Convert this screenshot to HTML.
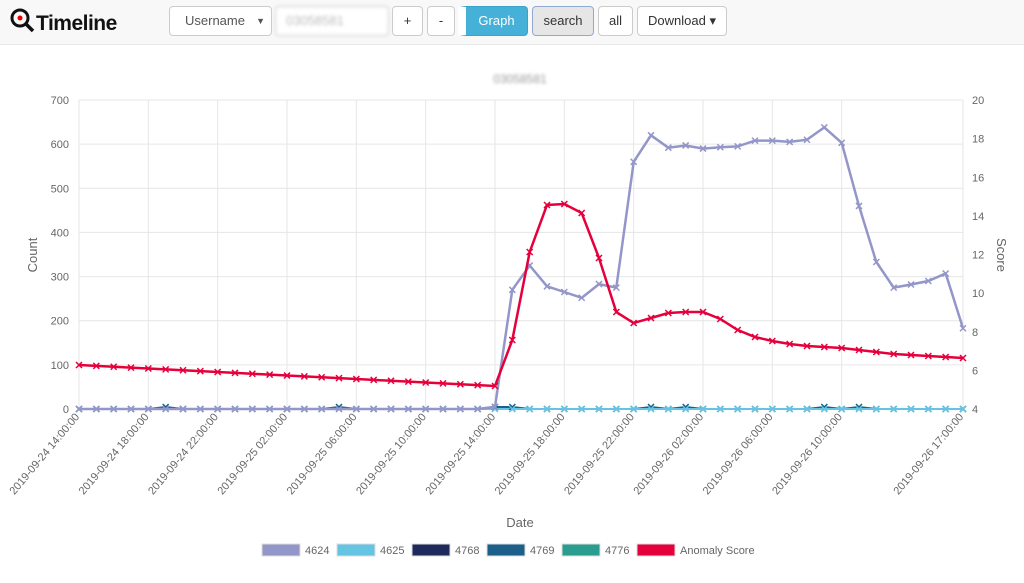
<!DOCTYPE html>
<html><head><meta charset="utf-8"><style>
body{margin:0;width:1024px;height:583px;background:#fff;font-family:"Liberation Sans",sans-serif;overflow:hidden;position:relative}
.hdr{position:absolute;left:0;top:0;width:1024px;height:44px;background:#f8f8f8;border-bottom:1px solid #e7e7e7}
.logo{position:absolute;left:10px;top:8px;font-weight:bold;font-size:21px;color:#111;letter-spacing:-0.5px}
.b{position:absolute;top:6px;height:30px;border:1px solid #ccc;border-radius:4px;background:#fff;font-size:13px;color:#333;box-sizing:border-box;text-align:center;line-height:28px}
</style></head><body>
<div class="hdr">
<div class="logo"><svg width="26" height="26" style="vertical-align:-4px" viewBox="0 0 26 26"><circle cx="10" cy="10" r="8" fill="none" stroke="#111" stroke-width="3"/><circle cx="10" cy="10" r="2.5" fill="#e00"/><line x1="16" y1="16" x2="23" y2="23" stroke="#111" stroke-width="3.5"/></svg>Timeline</div>
<div class="b" style="left:169px;width:103px;text-align:left;padding-left:15px;color:#555">Username <span style="position:absolute;right:6px;font-size:9px">▼</span></div>
<div class="b" style="left:275px;width:114px;text-align:left;padding-left:10px;color:#bbb;filter:blur(1.5px)">03058581</div>
<div class="b" style="left:392px;width:31px">+</div>
<div class="b" style="left:427px;width:28px">-</div>
<div class="b" style="left:458px;width:70px;background:#46b1d8;border-color:#3ba3c9;color:#fff;border-left:8px solid #fff">Graph</div>
<div class="b" style="left:532px;width:62px;background:#e6e6e6;border-color:#8fa9d4">search</div>
<div class="b" style="left:598px;width:35px">all</div>
<div class="b" style="left:637px;width:90px">Download ▾</div>
</div>
<svg id="c" width="1024" height="583" style="position:absolute;left:0;top:0"></svg>
<script>
var s='';
function X(i){return 79+i*(884/51)}
function YL(v){return 409-v*309/700}
for(var v=0;v<=700;v+=100){var y=YL(v);s+='<line x1="79" x2="963" y1="'+y+'" y2="'+y+'" stroke="#e6e6e6"/>';s+='<text x="69" y="'+(y+4)+'" font-size="11" fill="#666" text-anchor="end">'+v+'</text>';}
for(var r=4;r<=20;r+=2){var y=409-(r-4)*309/16;s+='<text x="972" y="'+(y+4)+'" font-size="11" fill="#666">'+r+'</text>';}
var labs=['2019-09-24 14:00:00','2019-09-24 18:00:00','2019-09-24 22:00:00','2019-09-25 02:00:00','2019-09-25 06:00:00','2019-09-25 10:00:00','2019-09-25 14:00:00','2019-09-25 18:00:00','2019-09-25 22:00:00','2019-09-26 02:00:00','2019-09-26 06:00:00','2019-09-26 10:00:00','2019-09-26 17:00:00'];
var idx=[0,4,8,12,16,20,24,28,32,36,40,44,51];
for(var k=0;k<idx.length;k++){var x=X(idx[k]);s+='<line x1="'+x+'" x2="'+x+'" y1="100" y2="409" stroke="#e6e6e6"/>';s+='<text transform="translate('+(x+1)+',417) rotate(-50)" font-size="11" fill="#666" text-anchor="end">'+labs[k]+'</text>';}
s+='<text x="520" y="83" font-size="12" fill="#999" text-anchor="middle" style="filter:blur(1.5px)">03058581</text>';
s+='<text x="520" y="527" font-size="13" fill="#666" text-anchor="middle">Date</text>';
s+='<text transform="translate(37,255) rotate(-90)" font-size="13" fill="#666" text-anchor="middle">Count</text>';
s+='<text transform="translate(997,255) rotate(90)" font-size="13" fill="#666" text-anchor="middle">Score</text>';
function series(ys,col,w,st){st=st||0;var p='';for(var i=st;i<ys.length;i++)p+=(i>st?'L':'M')+X(i).toFixed(1)+','+ys[i].toFixed(1);s+='<path d="'+p+'" fill="none" stroke="'+col+'" stroke-width="'+w+'"/>';for(var i=st;i<ys.length;i++){var x=X(i),y=ys[i];s+='<path d="M'+(x-3)+','+(y-3)+'L'+(x+3)+','+(y+3)+'M'+(x-3)+','+(y+3)+'L'+(x+3)+','+(y-3)+'" stroke="'+col+'" stroke-width="1.5"/>';}}
var z=[];for(var i=0;i<52;i++)z.push(409);
var b1=z.slice();b1[5]=407;b1[15]=407;b1[24]=407;b1[25]=407;b1[33]=407;b1[35]=407;b1[43]=407;b1[45]=407;
series(z,'#64c4e2',2);series(b1,'#1c5f8a',2);
var a=[0,0,0,0,0,0,0,0,0,0,0,0,0,0,0,0,0,0,0,0,0,0,0,0,5,270,325,278,265,252,283,275,560,620,592,597,590,593,595,608,608,605,610,638,603,460,333,275,282,290,307,183];
series(a.map(YL),'#9396c8',2.5);
series(z,'#64c4e2',2,25);
var an=[];for(var i=0;i<=24;i++)an.push(365+i*21/24);
an=an.concat([340,252,205,204,213,258,312,323,318,313,312,312,319,330,337,341,344,346,347,348,350,352,354,355,356,357,358]);
series(an,'#e5003c',2.5);
var lg=[['#9396c8','4624'],['#64c4e2','4625'],['#1f2a5c','4768'],['#1c5f8a','4769'],['#2a9d8f','4776'],['#e5003c','Anomaly Score']];
for(var k=0;k<6;k++){var x=262+k*75;s+='<rect x="'+x+'" y="544" width="38" height="12" fill="'+lg[k][0]+'" stroke="#ddd"/><text x="'+(x+43)+'" y="554" font-size="11" fill="#666">'+lg[k][1]+'</text>';}
document.getElementById('c').innerHTML=s;
</script>
</body></html>
